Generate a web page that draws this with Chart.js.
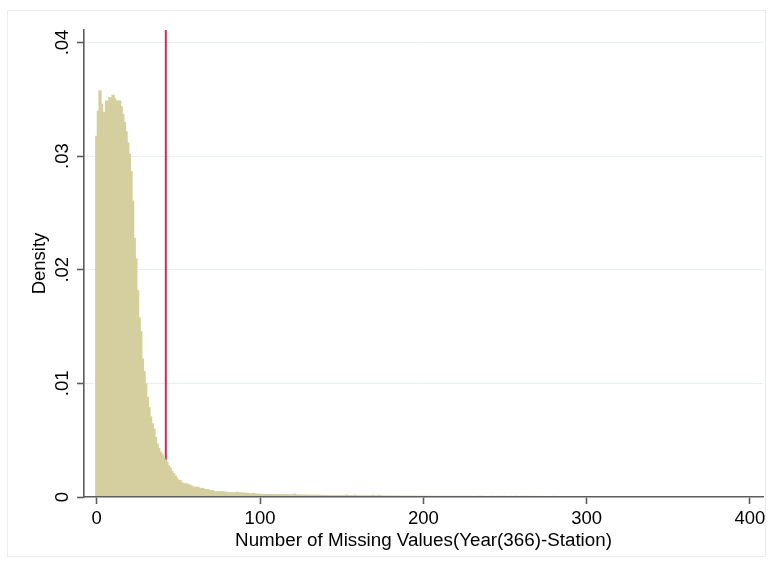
<!DOCTYPE html>
<html>
<head>
<meta charset="utf-8">
<title>Missing values histogram</title>
<script src="https://cdn.jsdelivr.net/npm/chart.js@4.4.1/dist/chart.umd.min.js"></script>
<style>
  html, body { margin: 0; padding: 0; background: #fff; }
  #wrap { width: 773px; height: 568px; }
</style>
</head>
<body>
<div id="wrap"><canvas id="hist" width="773" height="568"></canvas></div>
<script>
// density per number of missing days (bin i = i missing values), 0..59
const densityHead = [
  0.0318, 0.0340, 0.0358, 0.0346, 0.0339, 0.0337, 0.0349, 0.0347, 0.0352, 0.0351,
  0.0354, 0.0351, 0.0348, 0.0349, 0.0349, 0.0344, 0.0337, 0.0330, 0.0322, 0.0312,
  0.0302, 0.0287, 0.0261, 0.0228, 0.0210, 0.0182, 0.0158, 0.0146, 0.0122, 0.0111,
  0.0100, 0.0088, 0.0079, 0.0071, 0.0065, 0.0060, 0.0053, 0.0047, 0.0043, 0.0040,
  0.0038, 0.0035, 0.0033, 0.0031, 0.0028, 0.0026, 0.0023, 0.0021, 0.0019, 0.0017,
  0.0015, 0.0015, 0.0013, 0.0012, 0.0012, 0.0012, 0.0011, 0.0011, 0.0010, 0.0009
];
// 60..176
const densityMid = [
  0.0009, 0.0009, 0.0009, 0.0008, 0.0008, 0.0008, 0.0007, 0.0007, 0.0007, 0.0006,
  0.0006, 0.0006, 0.00052, 0.0005, 0.0005, 0.00049, 0.00048, 0.0005, 0.00047, 0.00046,
  0.00046, 0.00042, 0.00041, 0.00041, 0.0004, 0.00041, 0.00046, 0.0004, 0.00039, 0.00039,
  0.00038, 0.00038, 0.00037, 0.00032, 0.00031, 0.0003, 0.00036, 0.0003, 0.00029, 0.00028,
  0.00029, 0.00028, 0.00027, 0.00027, 0.00026, 0.00026, 0.00027, 0.00025, 0.00025, 0.00026,
  0.00024, 0.00025, 0.00024, 0.00024, 0.00023, 0.00024, 0.00023, 0.00023, 0.00022, 0.00023,
  0.00022, 0.0003, 0.00022, 0.00021, 0.00021, 0.00021, 0.0002, 0.00021, 0.0002, 0.0002,
  0.0002, 0.00019, 0.0002, 0.00019, 0.00019, 0.00019, 0.00018, 0.00019, 0.00018, 0.00018,
  0.00018, 0.00018, 0.00017, 0.00018, 0.00017, 0.00017, 0.00017, 0.00017, 0.00016, 0.00017,
  0.00016, 0.00016, 0.00016, 0.00022, 0.00016, 0.00015, 0.00016, 0.00015, 0.00021, 0.00015,
  0.00015, 0.00015, 0.00014, 0.00015, 0.00014, 0.00014, 0.00014, 0.00014, 0.00013, 0.0002,
  0.00014, 0.00013, 0.00013, 0.00019, 0.00013, 0.00013, 0.00012
];
// 177..366
const densityTail = [
  0.00012, 0.00012, 0.00012, 0.00012, 0.00011, 0.00012, 0.00011, 0.00011, 0.00012, 0.00011,
  0.00011, 0.00011, 0.00011, 0.00011, 0.00011, 0.00011, 0.0001, 0.00011, 0.00011, 0.00011,
  0.00011, 0.0001, 0.00011, 0.0001, 0.00011, 0.0001, 0.0001, 0.00011, 0.0001, 0.0001,
  0.0001, 0.0001, 0.0001, 0.00011, 0.0001, 0.0001, 0.0001, 0.0001, 0.0001, 0.0001,
  0.0001, 0.0001, 0.0001, 0.0001, 0.0001, 0.0001, 0.0001, 0.0001, 0.0001, 0.0001,
  0.0001, 0.0001, 0.0001, 0.0001, 0.00009, 0.0001, 0.0001, 0.0001, 0.0001, 0.0001,
  0.0001, 0.0001, 0.00009, 0.0001, 0.0001, 0.0001, 0.0001, 0.00009, 0.0001, 0.0001,
  0.0001, 0.00009, 0.0001, 0.0001, 0.0001, 0.00009, 0.0001, 0.0001, 0.00009, 0.0001,
  0.0001, 0.0001, 0.00009, 0.0001, 0.00009, 0.0001, 0.0001, 0.00009, 0.0001, 0.00009,
  0.0001, 0.00009, 0.0001, 0.00009, 0.00009, 0.0001, 0.00009, 0.0001, 0.00009, 0.00009,
  0.00009, 0.00009, 0.00009, 0.0001, 0.00009, 0.00009, 0.00009, 0.00009, 0.00009, 0.00009,
  0.00009, 0.00009, 0.00009, 0.00009, 0.00009, 0.00009, 0.00009, 0.00009, 0.00009, 0.00009,
  0.00009, 0.00009, 0.00008, 0.00009, 0.00009, 0.00009, 0.00009, 0.00008, 0.00009, 0.00009,
  0.00009, 0.00008, 0.00009, 0.00009, 0.00008, 0.00009, 0.00009, 0.00008, 0.00009, 0.00008,
  0.00009, 0.00008, 0.00009, 0.00008, 0.00008, 0.00009, 0.00008, 0.00008, 0.00009, 0.00008,
  0.00008, 0.00008, 0.00009, 0.00008, 0.00008, 0.00008, 0.00008, 0.00008, 0.00008, 0.00008,
  0.00008, 0.00008, 0.00008, 0.00008, 0.00008, 0.00008, 0.00008, 0.00008, 0.00008, 0.00008,
  0.00008, 0.00008, 0.00008, 0.00008, 0.00008, 0.00008, 0.00008, 0.00008, 0.00008, 0.00008,
  0.00008, 0.00008, 0.00008, 0.00008, 0.00008, 0.00008, 0.00008, 0.00008, 0.00008, 0.00008
];
const density = densityHead.concat(densityMid, densityTail);

// cut-off marked with the vertical line
const cutoff = 42.3;

const xTicks = [0, 100, 200, 300, 400];
const yTicks = [0, 0.01, 0.02, 0.03, 0.04];
const yTickLabels = ['0', '.01', '.02', '.03', '.04'];

const FONT = 'Liberation Sans, Arial, Helvetica, sans-serif';
const AXIS = '#5c5c5c';

// Stata-style vertical y tick labels + faint outer frame
const stataDecor = {
  id: 'stataDecor',
  beforeDraw(chart) {
    const ctx = chart.ctx;
    ctx.save();
    ctx.fillStyle = '#fff';
    ctx.fillRect(0, 0, chart.width, chart.height);
    ctx.strokeStyle = '#ececec';
    ctx.lineWidth = 1;
    ctx.strokeRect(7.5, 10.5, 758, 546);
    ctx.restore();
  },
  afterDraw(chart) {
    const ctx = chart.ctx;
    const y = chart.scales.y;
    ctx.save();
    ctx.fillStyle = '#000';
    ctx.font = '18.5px ' + FONT;
    ctx.textAlign = 'center';
    ctx.textBaseline = 'middle';
    yTicks.forEach((v, i) => {
      ctx.save();
      ctx.translate(63, y.getPixelForValue(v));
      ctx.rotate(-Math.PI / 2);
      ctx.fillText(yTickLabels[i], 0, 0);
      ctx.restore();
    });
    ctx.restore();
  }
};

new Chart(document.getElementById('hist'), {
  data: {
    datasets: [
      {
        type: 'bar',
        data: density.map((d, i) => ({ x: i, y: d })),
        backgroundColor: '#d5cf9f',
        borderWidth: 0,
        // bars slightly wider than a bin so neighbours overlap and leave no seams
        barPercentage: 2,
        categoryPercentage: 1,
        order: 1
      },
      {
        type: 'line',
        data: [{ x: cutoff, y: 0 }, { x: cutoff, y: 0.0411 }],
        borderColor: '#cf2f52',
        borderWidth: 2,
        pointRadius: 0,
        order: 2
      }
    ]
  },
  options: {
    responsive: false,
    animation: false,
    devicePixelRatio: 1,
    layout: { padding: { left: 0, top: 30, right: 10, bottom: 0 } },
    plugins: { legend: { display: false }, tooltip: { enabled: false } },
    scales: {
      x: {
        type: 'linear',
        offset: false,
        bounds: 'data',
        min: -7.8,
        max: 408,
        afterBuildTicks: s => { s.ticks = xTicks.map(v => ({ value: v })); },
        afterFit: s => { s.height = 71; },
        grid: {
          offset: false,
          color: 'rgba(0,0,0,0)',
          drawTicks: true,
          tickLength: 7,
          tickColor: AXIS,
          tickWidth: 1.6
        },
        border: { display: true, color: AXIS, width: 1.6, z: 1 },
        ticks: { color: '#000', padding: 4, font: { family: FONT, size: 18.5 }, maxRotation: 0, autoSkip: false },
        title: {
          display: true,
          text: 'Number of Missing Values(Year(366)-Station)',
          color: '#000',
          font: { family: FONT, size: 18.8 },
          padding: { top: 0, bottom: 16 }
        }
      },
      y: {
        type: 'linear',
        bounds: 'data',
        min: 0,
        max: 0.0411,
        afterBuildTicks: s => { s.ticks = yTicks.map(v => ({ value: v })); },
        afterFit: s => { s.width = 84; },
        grid: {
          color: c => (c.tick && c.tick.value === 0 ? 'rgba(0,0,0,0)' : '#e6eff1'),
          lineWidth: 1,
          drawTicks: true,
          tickLength: 7,
          tickColor: AXIS,
          tickWidth: 1.6
        },
        border: { display: true, color: AXIS, width: 1.6, z: 1 },
        ticks: { display: false },
        title: {
          display: true,
          text: 'Density',
          color: '#000',
          font: { family: FONT, size: 18.5 },
          padding: { top: 29, bottom: 0 }
        }
      }
    }
  },
  plugins: [stataDecor]
});
</script>
</body>
</html>
